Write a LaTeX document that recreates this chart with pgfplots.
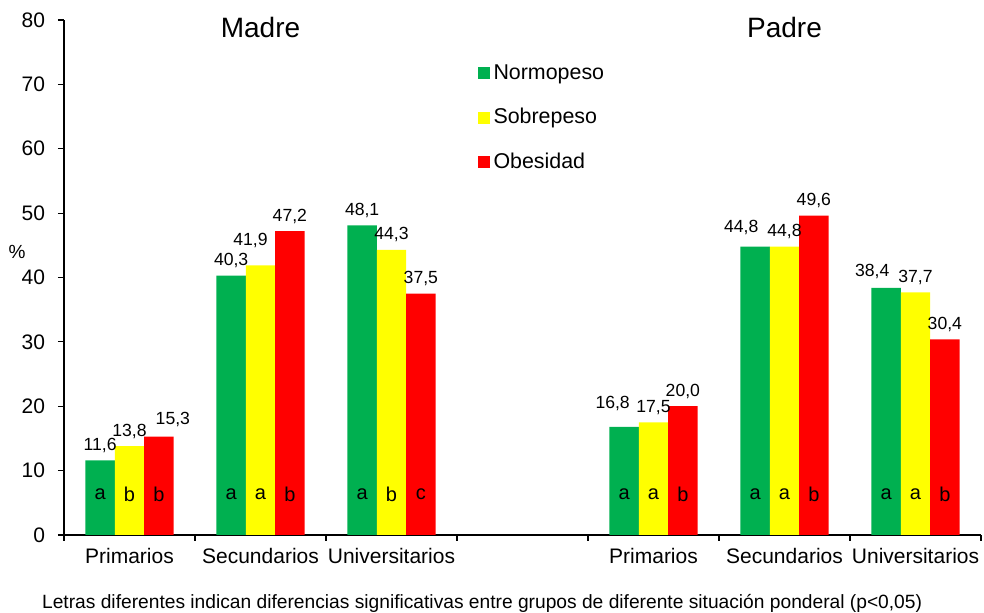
\documentclass[border=0pt]{standalone}
\usepackage{pgfplots}
\pgfplotsset{compat=1.18}
\usepackage{pgfplotstable}
\usepackage{fontspec}
\setmainfont{Liberation Sans}
\definecolor{cgreen}{HTML}{00B050}
\definecolor{cyellow}{HTML}{FFFF00}
\definecolor{cred}{HTML}{FF0000}

% bars placed at category position plus offset (-0.224, 0, +0.224)
% dx, dy: extra shift (pt) of the value label
\pgfplotstableread{
x y dx dy
-0.224 11.6 0 0
0.776 40.3 0 0
1.776 48.1 0 0
3.776 16.8 -5.75 4.35
4.776 44.8 -7 2
5.776 38.4 -7 0.5
}\normo
\pgfplotstableread{
x y dx dy
0 13.8 0 0
1 41.9 -5 5
2 44.3 0 0
4 17.5 0 0
5 44.8 0 0
6 37.7 0 0
}\sobre
\pgfplotstableread{
x y dx dy
0.224 15.3 7 1
1.224 47.2 0 0
2.224 37.5 0 0
4.224 20.0 0 0
5.224 49.6 0 0
6.224 30.4 0 0
}\obes
\pgfplotstableread{
x y l
-0.224 6.3 a
0 6.3 b
0.224 6.3 b
0.776 6.3 a
1 6.3 a
1.224 6.3 b
1.776 6.3 a
2 6.3 b
2.224 6.3 c
3.776 6.3 a
4 6.3 a
4.224 6.3 b
4.776 6.3 a
5 6.3 a
5.224 6.3 b
5.776 6.3 a
6 6.3 a
6.224 6.3 b
}\letras

\begin{document}
\begin{tikzpicture}
\begin{axis}[
  name=ax,
  scale only axis,
  width=458.5pt, height=257.5pt,
  xmin=-0.5, xmax=6.5,
  ymin=0, ymax=80,
  axis lines*=left,
  axis line style={line width=0.7pt},
  clip=false,
  ytick={0,10,...,80},
  yticklabel style={font=\fontsize{10.5}{12}\selectfont, xshift=-3pt},
  tick align=outside,
  major tick length=3pt,
  tick style={line width=0.6pt, black},
  xtick={-0.5,0.5,...,6.5},
  xticklabels={},
  extra x ticks={0,1,2,4,5,6},
  extra x tick labels={Primarios,Secundarios,Universitarios,Primarios,Secundarios,Universitarios},
  extra x tick style={major tick length=0pt, tick label style={font=\fontsize{10.5}{12}\selectfont, yshift=-3pt}},
  /pgf/number format/assume math mode=true,
  legend style={draw=none, fill=none, at={(rel axis cs:0.4505,0.922)}, anchor=north west,
    font=\fontsize{10.7}{12}\selectfont, row sep=9pt, inner sep=0pt},
  legend cell align=left,
  sq/.style={legend image code/.code={\fill[##1] (0pt,-3pt) rectangle (6pt,3pt);}},
  vlab/.style={draw=none, forget plot, point meta=explicit,
    nodes near coords={\pgfmathprintnumber[fixed,fixed zerofill,precision=1,use comma,assume math mode=true]{\pgfplotspointmeta}},
    every node near coord/.append style={font=\fontsize{8.8}{10}\selectfont, inner sep=0pt, anchor=base, yshift=5pt}},
]
\addplot[ybar, bar width=0.224, bar shift=0, fill=cgreen, draw=none, sq] table[x=x,y=y] {\normo};
\addlegendentry{Normopeso}
\addplot[ybar, bar width=0.224, bar shift=0, fill=cyellow, draw=none, sq] table[x=x,y=y] {\sobre};
\addlegendentry{Sobrepeso}
\addplot[ybar, bar width=0.224, bar shift=0, fill=cred, draw=none, sq] table[x=x,y=y] {\obes};
\addlegendentry{Obesidad}
\addplot[vlab] table[x expr=\thisrow{x}+\thisrow{dx}/65.5, y expr=\thisrow{y}+\thisrow{dy}/3.21875, meta=y] {\normo};
\addplot[vlab] table[x expr=\thisrow{x}+\thisrow{dx}/65.5, y expr=\thisrow{y}+\thisrow{dy}/3.21875, meta=y] {\sobre};
\addplot[vlab] table[x expr=\thisrow{x}+\thisrow{dx}/65.5, y expr=\thisrow{y}+\thisrow{dy}/3.21875, meta=y] {\obes};
\addplot[draw=none, forget plot, nodes near coords, point meta=explicit symbolic,
  every node near coord/.style={anchor=center, font=\fontsize{10}{12}\selectfont}] table[meta=l] {\letras};
\node[font=\fontsize{14}{16}\selectfont] at (axis cs:1,78.8) {Madre};
\node[font=\fontsize{14}{16}\selectfont] at (axis cs:5,78.8) {Padre};
\node[font=\fontsize{9.5}{11}\selectfont] at (axis cs:-0.5,44) [xshift=-23.5pt] {\%};
\node[font=\fontsize{9.6}{11}\selectfont] at (rel axis cs:0.456,0) [yshift=-34pt] {Letras diferentes indican diferencias significativas entre grupos de diferente situación ponderal (p<0,05)};
\end{axis}
\pgfresetboundingbox
\path ([xshift=-32pt, yshift=-39pt]ax.south west) rectangle ([xshift=1.5pt, yshift=10pt]ax.north east);
\end{tikzpicture}
\end{document}
